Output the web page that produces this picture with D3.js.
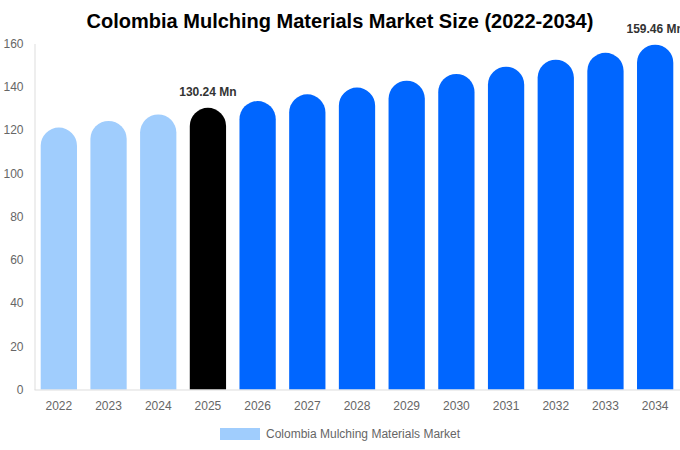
<!DOCTYPE html>
<html>
<head>
<meta charset="utf-8">
<script src="https://cdn.jsdelivr.net/npm/d3@7"></script>
<style>
  body { margin: 0; background: #fff; }
  text { font-family: "Liberation Sans", Arial, sans-serif; }
</style>
</head>
<body>
<div id="chart"></div>
<script>
const years = ["2022", "2023", "2024", "2025", "2026", "2027", "2028", "2029", "2030", "2031", "2032", "2033", "2034"];
const values = [121.1, 124.2, 127.2, 130.24, 133.4, 136.5, 139.6, 142.8, 145.9, 149.3, 152.5, 155.7, 159.46];
const yTicks = [0, 20, 40, 60, 80, 100, 120, 140, 160];
const labelled = { "2025": "130.24 Mn", "2034": "159.46 Mn" };
const seriesName = "Colombia Mulching Materials Market";

const width = 680, height = 450;
const margin = { top: 44, right: 0, bottom: 61, left: 34 };

const svg = d3.select("#chart").append("svg")
    .attr("width", width)
    .attr("height", height);

svg.append("text")
    .attr("x", 340)
    .attr("y", 28)
    .attr("text-anchor", "middle")
    .style("font-size", "20px")
    .style("font-weight", "bold")
    .style("fill", "#000")
    .text("Colombia Mulching Materials Market Size (2022-2034)");

const x = d3.scaleBand()
    .domain(years)
    .range([margin.left, width - margin.right])
    .paddingInner(0.27)
    .paddingOuter(0.135);

const y = d3.scaleLinear()
    .domain([0, 160])
    .range([height - margin.bottom + 0.5, margin.top - 0.5]);

// colour by period: history, base year, forecast
function barColor(yr) {
    if (+yr < 2025) return "#a0cdfd";
    if (+yr === 2025) return "#000000";
    return "#0066ff";
}

// bars with fully rounded tops
const bw = x.bandwidth();
const r = bw / 2;
svg.append("g")
    .selectAll("path")
    .data(years)
    .enter().append("path")
    .attr("d", (d, i) => {
        const x0 = x(d), y0 = y(values[i]), yb = y(0);
        return `M${x0},${yb} L${x0},${y0 + r} A${r},${r} 0 0 1 ${x0 + bw},${y0 + r} L${x0 + bw},${yb} Z`;
    })
    .style("fill", d => barColor(d));

// axes
const yAxis = svg.append("g")
    .attr("transform", `translate(${margin.left + 0.5},0)`)
    .call(d3.axisLeft(y).tickValues(yTicks).tickSize(0).tickPadding(11));
yAxis.select(".domain").attr("stroke", "#ddd");
yAxis.selectAll("text").style("font-size", "12px").style("fill", "#666");

const xAxis = svg.append("g")
    .attr("transform", `translate(0,${y(0)})`)
    .call(d3.axisBottom(x).tickSize(0).tickPadding(12));
xAxis.select(".domain").attr("stroke", "#ddd");
xAxis.selectAll("text").style("font-size", "12px").style("fill", "#666");

// value labels
svg.append("g")
    .selectAll("text")
    .data(years.filter(d => labelled[d]))
    .enter().append("text")
    .attr("x", d => x(d) + bw / 2)
    .attr("y", d => y(values[years.indexOf(d)]) - 12)
    .attr("text-anchor", "middle")
    .style("font-size", "12px")
    .style("font-weight", "bold")
    .style("fill", "#333")
    .text(d => labelled[d]);

// legend
const legend = svg.append("g").attr("transform", "translate(220,428)");
legend.append("rect")
    .attr("width", 40)
    .attr("height", 12)
    .style("fill", "#a0cdfd");
legend.append("text")
    .attr("x", 46)
    .attr("y", 10)
    .style("font-size", "12px")
    .style("fill", "#666")
    .text(seriesName);
</script>
</body>
</html>
